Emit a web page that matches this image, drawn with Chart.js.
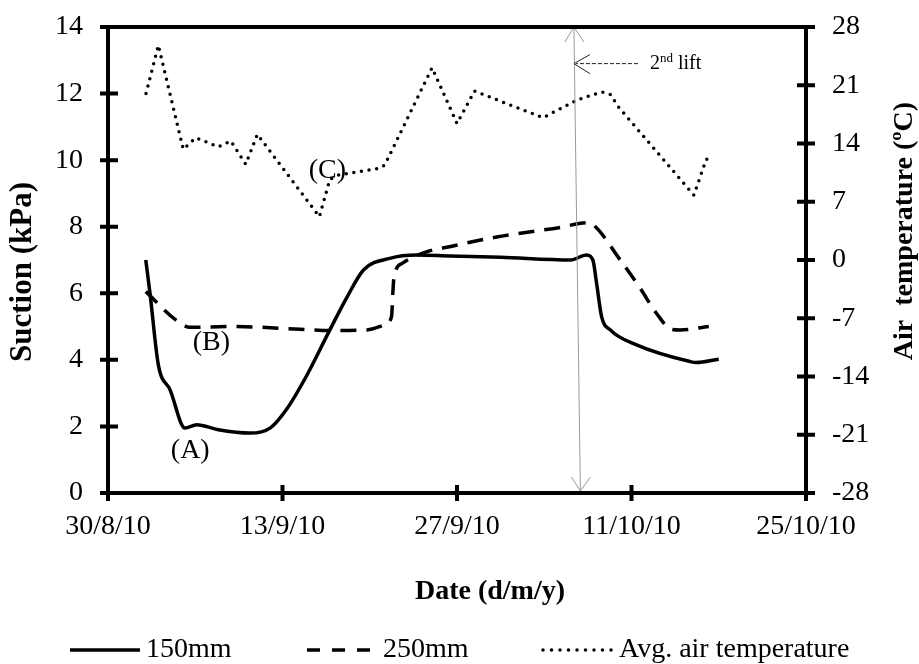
<!DOCTYPE html>
<html>
<head>
<meta charset="utf-8">
<script src="https://cdn.jsdelivr.net/npm/chart.js@4.4.1/dist/chart.umd.min.js"></script>
<style>
html, body { margin: 0; padding: 0; background: #fff; }
</style>
</head>
<body>
<canvas id="suctionChart" width="919" height="664"></canvas>
<script>
// x values are days counted from 30/8/10
const tickLabels = ['30/8/10', '13/9/10', '27/9/10', '11/10/10', '25/10/10'];

const days150 = [3.03, 3.37, 4.04, 4.98, 6.18, 7.12, 8.85, 11.4, 13.0, 14.3, 15.9, 17.8, 19.2, 20.5, 22.6, 24.8, 27.4, 31.5, 37.1, 38.4, 38.9, 39.2, 39.6, 40.3, 42.4, 46.7, 47.2, 49.0];
const suction150 = [7.0, 6.0, 3.85, 3.1, 1.95, 2.05, 1.9, 1.8, 1.95, 2.5, 3.5, 4.9, 5.9, 6.7, 7.05, 7.15, 7.12, 7.08, 7.0, 7.15, 7.0, 6.3, 5.3, 4.9, 4.45, 3.95, 3.92, 4.02];

const days250 = [3.03, 5.51, 6.58, 10.06, 15.4, 17.8, 20.8, 22.2, 22.75, 22.85, 22.95, 23.6, 25.6, 27.4, 31.3, 36.3, 38.4, 38.95, 41.1, 42.7, 44.0, 45.2, 45.9, 48.2];
const suction250 = [6.05, 5.18, 4.98, 5.0, 4.92, 4.88, 4.9, 5.05, 5.3, 6.0, 6.5, 6.9, 7.25, 7.4, 7.7, 7.98, 8.12, 8.05, 7.0, 6.15, 5.4, 4.92, 4.9, 5.0];

const daysTemp = [3.05, 4.04, 6.04, 7.04, 8.85, 9.85, 11.05, 11.98, 16.96, 17.8, 18.5, 19.7, 21.7, 22.2, 26.0, 28.0, 29.4, 34.9, 37.6, 39.6, 40.3, 41.0, 47.0, 48.0, 48.6];
const airTemp = [20.0, 25.8, 13.3, 14.7, 13.6, 14.3, 11.5, 15.1, 5.2, 9.7, 10.2, 10.5, 11.0, 11.4, 23.1, 16.4, 20.3, 17.1, 19.2, 20.2, 19.9, 18.3, 7.8, 12.1, 12.0];

const curveLabels = [
    { text: '(A)', day: 6.6, suction: 1.27 },
    { text: '(B)', day: 8.3, suction: 4.51 },
    { text: '(C)', day: 17.6, suction: 9.67 }
];
const liftTopDay = 37.38;
const liftBottomDay = 37.9;

const serif = '"Liberation Serif", "Times New Roman", serif';

function points(xs, ys) {
    return xs.map((x, i) => ({ x: x, y: ys[i] }));
}

// no extra room for overflowing tick labels, the frame is placed by layout padding
function noPad(s) {
    s.paddingTop = 0; s.paddingBottom = 0; s.paddingLeft = 0; s.paddingRight = 0;
}

const annotations = {
    id: 'annotations',
    afterDraw(chart) {
        const { ctx, chartArea: a, scales } = chart;
        const x = scales.x, y = scales.y;
        ctx.save();

        // 2nd lift vertical arrow
        const xt = x.getPixelForValue(liftTopDay), xb = x.getPixelForValue(liftBottomDay);
        const yt = a.top, yb = a.bottom - 2;
        ctx.strokeStyle = '#999';
        ctx.lineWidth = 1;
        ctx.beginPath();
        ctx.moveTo(xt, yt); ctx.lineTo(xb, yb);
        ctx.moveTo(xt - 9, yt + 15); ctx.lineTo(xt, yt); ctx.lineTo(xt + 10, yt + 15);
        ctx.moveTo(xb - 9, yb - 14); ctx.lineTo(xb, yb); ctx.lineTo(xb + 10, yb - 14);
        ctx.stroke();

        // 2nd lift label arrow
        const ly = y.getPixelForValue(12.9);
        ctx.strokeStyle = '#222';
        ctx.setLineDash([4, 2]);
        ctx.beginPath();
        ctx.moveTo(xt + 64, ly); ctx.lineTo(xt + 2, ly);
        ctx.stroke();
        ctx.setLineDash([]);
        ctx.beginPath();
        ctx.moveTo(xt + 16, ly - 9); ctx.lineTo(xt, ly); ctx.lineTo(xt + 16, ly + 10);
        ctx.stroke();

        ctx.fillStyle = '#000';
        ctx.textBaseline = 'alphabetic';
        ctx.textAlign = 'left';
        let tx = xt + 76;
        ctx.font = '20px ' + serif;
        ctx.fillText('2', tx, ly + 5);
        tx += ctx.measureText('2').width;
        ctx.font = '13px ' + serif;
        ctx.fillText('nd', tx, ly - 2);
        tx += ctx.measureText('nd').width;
        ctx.font = '20px ' + serif;
        ctx.fillText(' lift', tx, ly + 5);

        // curve labels
        ctx.font = '28px ' + serif;
        ctx.textAlign = 'center';
        ctx.textBaseline = 'middle';
        curveLabels.forEach(l => {
            ctx.fillText(l.text, x.getPixelForValue(l.day), y.getPixelForValue(l.suction));
        });

        // frame and crossing tick marks
        ctx.strokeStyle = '#000';
        ctx.lineWidth = 4;
        ctx.lineCap = 'butt';
        ctx.strokeRect(a.left, a.top, a.right - a.left, a.bottom - a.top);
        ctx.beginPath();
        y.ticks.forEach(t => {
            const p = y.getPixelForValue(t.value);
            ctx.moveTo(a.left - 8, p); ctx.lineTo(a.left + 10, p);
        });
        scales.y2.ticks.forEach(t => {
            const p = scales.y2.getPixelForValue(t.value);
            ctx.moveTo(a.right - 9, p); ctx.lineTo(a.right + 9, p);
        });
        x.ticks.forEach(t => {
            const p = x.getPixelForValue(t.value);
            ctx.moveTo(p, a.bottom - 8); ctx.lineTo(p, a.bottom + 8);
        });
        ctx.stroke();

        // axis titles
        ctx.font = 'bold 28px ' + serif;
        ctx.textAlign = 'center';
        ctx.textBaseline = 'middle';
        ctx.fillText('Date (d/m/y)', 490, 592);
        ctx.save();
        ctx.translate(905, 231);
        ctx.rotate(-Math.PI / 2);
        ctx.fillText('Air  temperature (ºC)', 0, 0);
        ctx.restore();
        ctx.save();
        ctx.font = 'bold 31px ' + serif;
        ctx.translate(23, 272);
        ctx.rotate(-Math.PI / 2);
        ctx.fillText('Suction (kPa)', 0, 0);
        ctx.restore();

        // legend
        const legendY = 650;
        const items = [
            { x0: 70, x1: 140, ds: chart.data.datasets[0], dash: [], cap: 'butt' },
            { x0: 307, x1: 377, ds: chart.data.datasets[1], dash: [13, 12], cap: 'butt' },
            { x0: 543, x1: 613, ds: chart.data.datasets[2], dash: [0, 8.5], cap: 'round' }
        ];
        ctx.font = '28px ' + serif;
        ctx.textAlign = 'left';
        items.forEach(it => {
            ctx.strokeStyle = '#000';
            ctx.lineWidth = it.ds.borderWidth;
            ctx.lineCap = it.cap;
            ctx.setLineDash(it.dash);
            ctx.beginPath();
            ctx.moveTo(it.x0, legendY); ctx.lineTo(it.x1, legendY);
            ctx.stroke();
            ctx.setLineDash([]);
            ctx.fillText(it.ds.label, it.x1 + 6, legendY);
        });
        ctx.restore();
    }
};

new Chart(document.getElementById('suctionChart'), {
    type: 'line',
    data: {
        datasets: [{
            label: '150mm',
            data: points(days150, suction150),
            yAxisID: 'y',
            borderColor: '#000',
            borderWidth: 3.5,
            cubicInterpolationMode: 'monotone',
            pointRadius: 0
        }, {
            label: '250mm',
            data: points(days250, suction250),
            yAxisID: 'y',
            borderColor: '#000',
            borderWidth: 3.5,
            borderDash: [16, 10],
            cubicInterpolationMode: 'monotone',
            pointRadius: 0
        }, {
            label: 'Avg. air temperature',
            data: points(daysTemp, airTemp),
            yAxisID: 'y2',
            borderColor: '#000',
            borderWidth: 3.5,
            borderDash: [0, 7.7],
            borderCapStyle: 'round',
            tension: 0,
            pointRadius: 0
        }]
    },
    options: {
        responsive: false,
        animation: false,
        layout: { padding: { top: 27, left: 0, right: 0, bottom: 0 } },
        plugins: {
            legend: { display: false },
            tooltip: { enabled: false }
        },
        scales: {
            x: {
                type: 'linear',
                min: 0,
                max: 56,
                grid: { display: false, drawTicks: false, tickLength: 0 },
                border: { display: false },
                afterFit: s => { s.height = 171; noPad(s); },
                ticks: {
                    stepSize: 14,
                    padding: 17,
                    color: '#000',
                    font: { family: serif, size: 28 },
                    maxRotation: 0,
                    callback: (v, i) => tickLabels[i]
                }
            },
            y: {
                position: 'left',
                min: 0,
                max: 14,
                grid: { display: false, drawTicks: false, tickLength: 0 },
                border: { display: false },
                afterFit: s => { s.width = 108; noPad(s); },
                ticks: {
                    stepSize: 2,
                    padding: 25,
                    color: '#000',
                    font: { family: serif, size: 28 }
                }
            },
            y2: {
                position: 'right',
                min: -28,
                max: 28,
                grid: { display: false, drawTicks: false, tickLength: 0 },
                border: { display: false },
                afterFit: s => { s.width = 113; noPad(s); },
                ticks: {
                    stepSize: 7,
                    padding: 26,
                    color: '#000',
                    font: { family: serif, size: 28 }
                }
            }
        }
    },
    plugins: [annotations]
});
</script>
</body>
</html>
